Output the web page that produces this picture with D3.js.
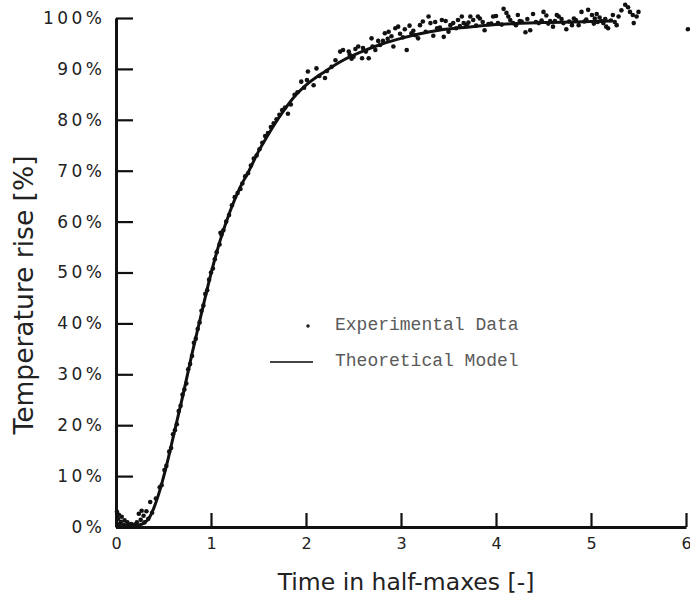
<!DOCTYPE html>
<html>
<head>
<meta charset="utf-8">
<script src="https://cdn.jsdelivr.net/npm/d3@7"></script>
<style>
  body { margin: 0; background: #fff; }
  svg { display: block; }
</style>
</head>
<body>
<div id="chart"></div>
<script>
// tick values
var xTicks = [0, 1, 2, 3, 4, 5, 6];
var yTicks = [0, 10, 20, 30, 40, 50, 60, 70, 80, 90, 100];

// theoretical model (time in half-maxes, rise in %)
var modelTime = [0, 0.1, 0.2, 0.28, 0.35, 0.4, 0.45, 0.5, 0.55, 0.6, 0.7, 0.8, 0.9, 1.0, 1.1, 1.2, 1.3, 1.4, 1.5, 1.6, 1.7, 1.8, 1.9, 2.0, 2.2, 2.4, 2.6, 2.8, 3.0, 3.2, 3.4, 3.7, 4.0, 4.5, 5.0, 5.2];
var modelRise = [0, 0, 0.2, 0.6, 1.8, 3.8, 6.5, 9.8, 13.5, 17.5, 25.5, 34, 42, 49.8, 56.5, 62, 66.5, 70, 73.8, 77, 80, 82.7, 85, 86.8, 89.5, 91.8, 93.5, 94.9, 96, 96.9, 97.6, 98.2, 98.7, 99.1, 99.3, 99.4];

// experimental points
var dataTime = [0.01, 0.02, 0.02, 0.03, 0.04, 0.05, 0.06, 0.08, 0.09, 0.11, 0.12, 0.14, 0.16, 0.18, 0.2, 0.22, 0.24, 0.26, 0.27, 0.29, 0.3, 0.32, 0.34, 0.36, 0.38,
  0.42, 0.46, 0.48, 0.51, 0.53, 0.56, 0.58, 0.6, 0.62, 0.64, 0.66, 0.68, 0.7, 0.72, 0.74, 0.76, 0.78, 0.8, 0.82, 0.84, 0.86, 0.88, 0.9, 0.92, 0.94, 0.96, 0.98,
  1.0, 1.02, 1.04, 1.06, 1.09, 1.1, 1.11, 1.13, 1.16, 1.19, 1.22, 1.25, 1.28, 1.31, 1.33, 1.36, 1.39, 1.42, 1.45, 1.48, 1.51, 1.54, 1.57, 1.6, 1.63, 1.66, 1.69, 1.72, 1.75, 1.78,
  1.81, 1.84, 1.88, 1.91, 1.95, 1.98, 2.01, 2.02, 2.08, 2.11, 2.14, 2.2, 2.22, 2.27, 2.31, 2.36, 2.39, 2.45, 2.48, 2.5, 2.55, 2.59, 2.63, 2.66, 2.69, 2.73, 2.78, 2.81, 2.83, 2.87, 2.92, 2.94, 2.97,
  3.02, 3.06, 3.11, 3.15, 3.18, 3.23, 3.26, 3.29, 3.31, 3.34, 3.38, 3.43, 3.45, 3.5, 3.55, 3.58, 3.62, 3.64, 3.66, 3.69, 3.73, 3.76, 3.81, 3.83, 3.88, 3.92, 3.97,
  4.02, 4.06, 4.08, 4.11, 4.13, 4.18, 4.23, 4.27, 4.31, 4.36, 4.39, 4.42, 4.45, 4.5, 4.53, 4.57, 4.6, 4.64, 4.66, 4.71, 4.74, 4.77, 4.8, 4.84, 4.87, 4.9, 4.93, 4.97,
  5.01, 5.04, 5.07, 5.09, 5.11, 5.13, 5.16, 5.18, 5.21, 5.23, 5.27, 5.29, 5.36, 5.39, 5.41, 5.45, 5.48, 5.5, 6.02,
  // points sitting on the model line near the plateau
  2.46, 2.52, 2.6, 2.7, 2.76, 2.86, 2.9, 2.99, 3.04, 3.09, 3.13, 3.2, 3.36, 3.41, 3.47, 3.52, 3.6, 3.71, 3.79, 3.86, 3.95, 4.0,
  4.15, 4.21, 4.25, 4.33, 4.48, 4.55, 4.62, 4.69, 4.82, 4.95, 5.03, 5.06, 5.15, 5.25, 5.32, 5.44];
var dataRise = [3.0, 0.3, 1.6, 2.4, 0.6, 1.0, 2.0, 0.4, 1.3, 0.2, 0.9, 0.3, 0.6, 0.2, 0.5, 0.9, 2.6, 1.4, 3.2, 2.2, 0.9, 3.1, 1.6, 4.9, 2.8,
  5.6, 7.8, 8.2, 11.2, 12.0, 14.8, 15.5, 18.2, 19.0, 20.2, 22.8, 23.8, 26.0, 27.0, 28.2, 31.0, 32.0, 33.6, 36.2, 37.0, 38.9, 40.2, 42.5, 43.5, 45.8, 46.5, 48.6,
  50.0, 50.8, 52.6, 54.0, 55.5, 57.8, 57.4, 58.3, 60.0, 61.3, 63.2, 64.8, 65.6, 66.4, 67.5, 68.9, 69.5, 71.0, 72.4, 73.0, 74.2, 75.5, 76.8, 77.4, 78.6, 79.3, 80.1, 81.0, 81.9, 82.4,
  81.2, 83.0, 84.9, 85.4, 87.5, 86.3, 87.8, 89.5, 86.8, 90.1, 88.6, 88.2, 89.6, 90.4, 91.7, 93.4, 93.7, 93.4, 92.0, 92.4, 94.4, 92.1, 93.4, 92.1, 96.0, 93.7, 94.7, 95.5, 97.0, 97.3, 94.4, 98.0, 98.3,
  96.2, 93.7, 97.0, 96.6, 96.0, 99.3, 97.3, 100.3, 99.0, 96.5, 98.0, 99.6, 96.3, 97.3, 99.0, 98.0, 98.4, 100.3, 99.0, 98.6, 100.3, 99.6, 100.3, 99.9, 97.6, 98.8, 100.3,
  99.0, 98.7, 101.8, 101.0, 100.3, 99.0, 100.6, 99.3, 97.2, 97.6, 100.8, 99.2, 99.0, 101.2, 100.5, 99.4, 98.3, 100.6, 100.3, 99.0, 97.8, 99.3, 98.6, 99.6, 98.6, 101.2, 99.3, 101.6,
  100.6, 99.9, 99.2, 100.1, 99.4, 99.0, 98.3, 98.0, 99.5, 100.6, 98.6, 100.3, 102.6, 102.1, 101.2, 99.0, 100.3, 101.2, 97.8,
  92.8, 93.9, 94.1, 94.4, 95.5, 95.9, 96.4, 96.9, 97.8, 98.5, 97.5, 98.6, 99.2, 98.1, 99.4, 98.6, 99.6, 99.1, 98.5, 99.2, 98.9, 100.4,
  99.6, 98.6, 99.4, 99.8, 99.5, 98.9, 99.4, 99.8, 99.9, 99.7, 98.9, 100.8, 99.8, 99.2, 101.5, 100.6];

var legendLabels = ['Experimental Data', 'Theoretical Model'];

var width = 690, height = 601;

var svg = d3.select('#chart').append('svg')
    .attr('width', width)
    .attr('height', height);

var x = d3.scaleLinear().domain([0, 6]).range([116, 686]);
var y = d3.scaleLinear().domain([0, 100]).range([527, 18]);

var tickFont = '"DejaVu Sans", sans-serif';

// x axis, ticks pointing up into the plot
var gx = svg.append('g')
    .attr('transform', 'translate(0,' + y(0) + ')')
    .call(d3.axisBottom(x).tickValues(xTicks).tickSizeInner(-14).tickSizeOuter(0).tickPadding(11).tickFormat(d3.format('d')));
gx.select('.domain').attr('stroke', '#111').attr('stroke-width', 3);
gx.selectAll('.tick line').attr('stroke', '#111').attr('stroke-width', 2.2);
gx.selectAll('.tick text')
    .attr('font-family', tickFont).attr('font-size', 16).attr('fill', '#222');

// y axis, ticks pointing right
var gy = svg.append('g')
    .attr('transform', 'translate(' + x(0) + ',0)')
    .call(d3.axisLeft(y).tickValues(yTicks).tickSizeInner(-17).tickSizeOuter(0).tickPadding(10.5).tickFormat(function (d) { return d + '%'; }));
gy.select('.domain').attr('stroke', '#111').attr('stroke-width', 3);
gy.selectAll('.tick line').attr('stroke', '#111').attr('stroke-width', 2.2);
gy.selectAll('.tick text')
    .attr('font-family', tickFont).attr('font-size', 17).attr('fill', '#222')
    .attr('letter-spacing', 3.5);

// model curve
var model = modelTime.map(function (t, i) { return [t, modelRise[i]]; });
var line = d3.line()
    .x(function (d) { return x(d[0]); })
    .y(function (d) { return y(d[1]); })
    .curve(d3.curveMonotoneX);
svg.append('path')
    .datum(model)
    .attr('fill', 'none')
    .attr('stroke', '#111')
    .attr('stroke-width', 3)
    .attr('d', line);

// experimental dots
var pts = dataTime.map(function (t, i) { return [t, dataRise[i]]; });
svg.append('g').selectAll('circle')
    .data(pts)
    .enter().append('circle')
    .attr('cx', function (d) { return x(d[0]); })
    .attr('cy', function (d) { return y(d[1]); })
    .attr('r', 2.3)
    .attr('fill', '#111');

// legend
var lg = svg.append('g');
lg.append('circle').attr('cx', 308).attr('cy', 326).attr('r', 1.8).attr('fill', '#222');
lg.append('line').attr('x1', 270).attr('x2', 313).attr('y1', 362).attr('y2', 362)
    .attr('stroke', '#444').attr('stroke-width', 1.8);
lg.selectAll('text')
    .data(legendLabels)
    .enter().append('text')
    .attr('x', 335)
    .attr('y', function (d, i) { return 330 + i * 36; })
    .attr('font-family', '"Liberation Mono", monospace')
    .attr('font-size', 18)
    .attr('fill', '#5a5a5a')
    .text(function (d) { return d; });

// axis titles
svg.append('text')
    .attr('x', 406)
    .attr('y', 590)
    .attr('text-anchor', 'middle')
    .attr('font-family', '"DejaVu Sans", sans-serif')
    .attr('font-size', 23.5)
    .attr('fill', '#222')
    .text('Time in half-maxes [-]');

svg.append('text')
    .attr('transform', 'translate(33,295) rotate(-90)')
    .attr('text-anchor', 'middle')
    .attr('font-family', '"DejaVu Sans", sans-serif')
    .attr('font-size', 26.5)
    .attr('fill', '#222')
    .text('Temperature rise [%]');
</script>
</body>
</html>
